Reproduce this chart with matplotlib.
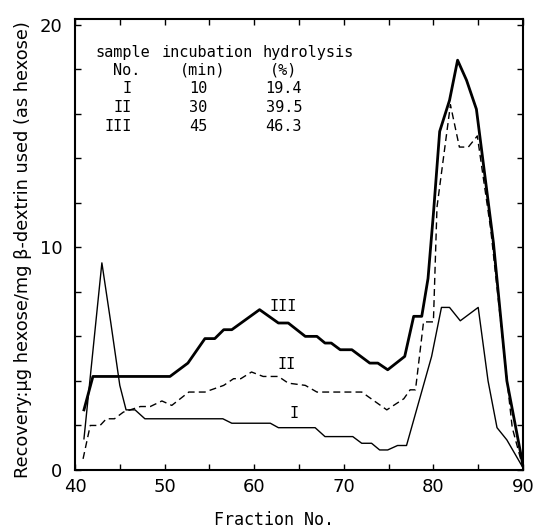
import matplotlib.pyplot as plt
from matplotlib.ticker import MultipleLocator

# curve I (thin solid), 10 min
frac_I = [41, 43, 44, 45, 45.7, 46.7, 47.8, 56.5, 57.5, 61.8, 62.7, 66.8, 67.9, 71, 72,
          73.1, 74, 74.9, 76, 77, 79.8, 80.9, 81.8, 83, 85, 86.1, 87.1, 88.2, 90]
rec_I = [1.4, 9.3, 6.6, 3.8, 2.7, 2.7, 2.3, 2.3, 2.1, 2.1, 1.9, 1.9, 1.5, 1.5, 1.2,
         1.2, 0.9, 0.9, 1.1, 1.1, 5.1, 7.3, 7.3, 6.7, 7.3, 4.0, 1.9, 1.35, 0.1]

# curve II (dashed), 30 min
frac_II = [40.9, 41.7, 42.8, 43.5, 44.4, 45.4, 47.3, 48.4, 49.7, 50.8, 52.7, 54.5, 56.6,
           57.7, 58.5, 59.7, 61, 62.7, 63.8, 65.7, 67, 72, 74.8, 76.7, 77.4, 78, 78.9,
           80, 80.4, 81.9, 82.9, 83.9, 84.9, 86.4, 87.9, 88.8, 90]
rec_II = [0.5, 2.0, 2.0, 2.3, 2.3, 2.6, 2.85, 2.85, 3.1, 2.9, 3.5, 3.5, 3.8,
          4.1, 4.1, 4.4, 4.2, 4.2, 3.9, 3.8, 3.5, 3.5, 2.7, 3.2, 3.6, 3.6, 6.65,
          6.65, 11.8, 16.4, 14.5, 14.5, 15.0, 10.8, 5.2, 1.9, 0.1]

# curve III (thick solid), 45 min
frac_III = [41, 42, 50.6, 52.6, 54.5, 55.6, 56.6, 57.5, 60.6, 62.7, 63.8, 65.7, 67, 67.9,
            68.6, 69.6, 70.9, 72.9, 73.8, 74.9, 76.8, 77.8, 78.7, 79.4, 80, 80.7, 81.8,
            82.7, 83.7, 84.8, 86.7, 88.2, 90]
rec_III = [2.7, 4.2, 4.2, 4.8, 5.9, 5.9, 6.3, 6.3, 7.2, 6.6, 6.6, 6.0, 6.0, 5.7,
           5.7, 5.4, 5.4, 4.8, 4.8, 4.5, 5.1, 6.9, 6.9, 8.6, 11.5, 15.2, 16.6,
           18.4, 17.5, 16.2, 10.2, 4.0, 0.2]

samples = ['I', 'II', 'III']
minutes = ['10', '30', '45']
hydrolysis = ['19.4', '39.5', '46.3']

fig = plt.figure(figsize=(5.37, 5.28), dpi=100)
ax = fig.add_axes([75 / 537, 1 - 470 / 528, 448 / 537, 451 / 528])

ax.plot(frac_I, rec_I, color='black', lw=1.0)
ax.plot(frac_II, rec_II, color='black', lw=1.0, ls=(0, (5, 3)))
ax.plot(frac_III, rec_III, color='black', lw=2.0)

ax.set_xlim(40, 90)
ax.set_ylim(0, 20.25)
ax.xaxis.set_major_locator(MultipleLocator(10))
ax.xaxis.set_minor_locator(MultipleLocator(5))
ax.yaxis.set_major_locator(MultipleLocator(10))
ax.yaxis.set_minor_locator(MultipleLocator(2))
ax.tick_params(which='both', direction='in', top=True, right=True, length=4, width=1)
ax.tick_params(axis='both', labelsize=13, pad=6)
ax.tick_params(axis='y', pad=9)
for s in ax.spines.values():
    s.set_linewidth(1.5)

# curve labels
mono = 'DejaVu Sans Mono'
ax.text(63.2, 7.35, 'III', family=mono, fontsize=11, ha='center', va='center')
ax.text(63.6, 4.75, 'II', family=mono, fontsize=11, ha='center', va='center')
ax.text(64.4, 2.55, 'I', family=mono, fontsize=11, ha='center', va='center')

# table in the upper left
ax.text(45.34, 18.76, 'sample', family=mono, fontsize=11, ha='center', va='center')
ax.text(54.8, 18.76, 'incubation', family=mono, fontsize=11, ha='center', va='center')
ax.text(66.03, 18.76, 'hydrolysis', family=mono, fontsize=11, ha='center', va='center')
ax.text(45.77, 17.94, 'No.', family=mono, fontsize=11, ha='center', va='center')
ax.text(54.26, 17.94, '(min)', family=mono, fontsize=11, ha='center', va='center')
ax.text(63.3, 17.94, '(%)', family=mono, fontsize=11, ha='center', va='center')
rows_y = [17.11, 16.29, 15.43]
for s, m, h, yy in zip(samples, minutes, hydrolysis, rows_y):
    ax.text(46.34, yy, s, family=mono, fontsize=11, ha='right', va='center')
    ax.text(53.77, yy, m, family=mono, fontsize=11, ha='center', va='center')
    ax.text(63.3, yy, h, family=mono, fontsize=11, ha='center', va='center')

fig.text(274 / 537, 1 - 520 / 528, 'Fraction No.', family=mono, fontsize=12,
         ha='center', va='center')
fig.text(23 / 537, 1 - 250 / 528, 'Recovery:\u03bcg hexose/mg \u03b2-dextrin used (as hexose)',
         fontsize=12.8, rotation=90, ha='center', va='center')

fig.savefig('out.png', dpi=100)
